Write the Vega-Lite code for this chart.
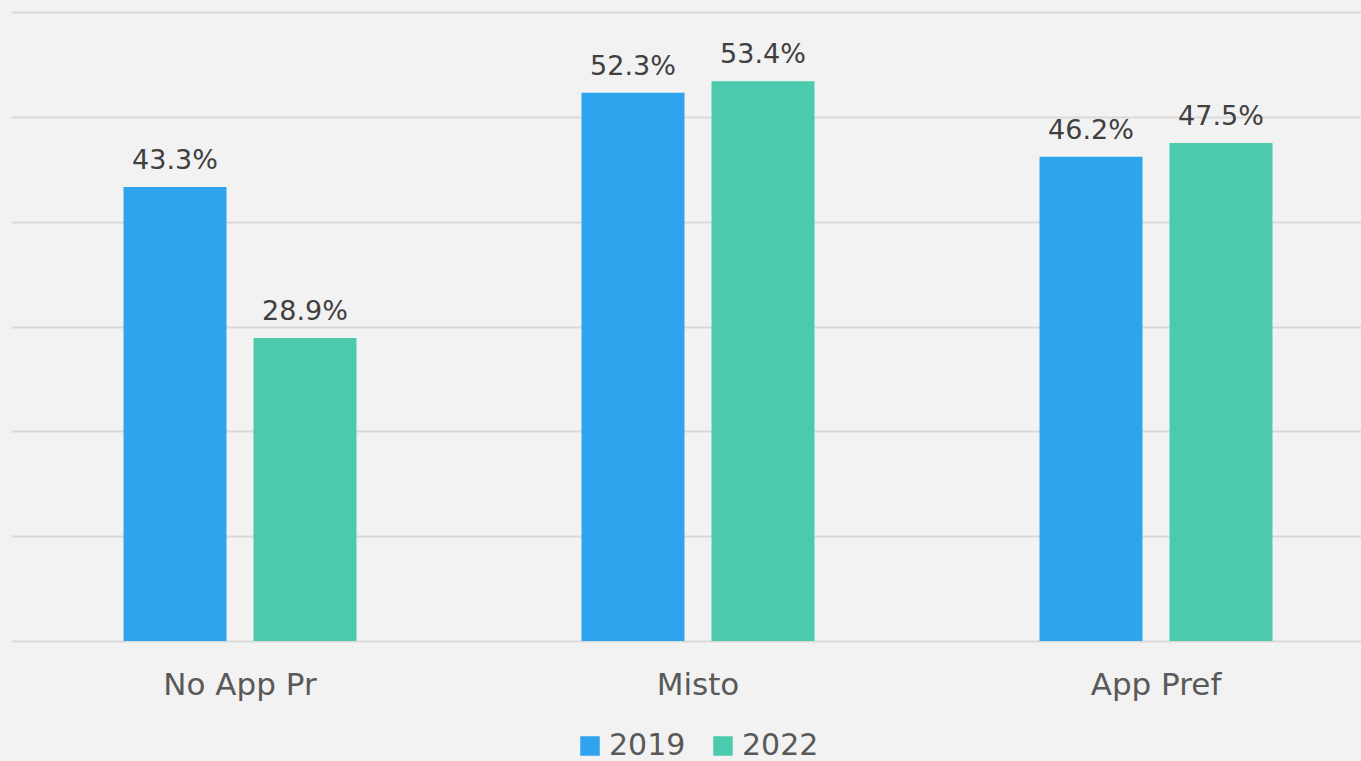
{
  "$schema": "https://vega.github.io/schema/vega-lite/v6.json",
  "width": 1374,
  "height": 629,
  "autosize": {"type": "none"},
  "padding": {"left": 11, "top": 12, "right": 0, "bottom": 120},
  "background": "#f2f2f2",
  "config": {
    "view": {"stroke": null},
    "font": "DejaVu Sans"
  },
  "data": {
    "values": [
      {"category": "No App Pr", "year": "2019", "value": 0.433},
      {"category": "No App Pr", "year": "2022", "value": 0.289},
      {"category": "Misto", "year": "2019", "value": 0.523},
      {"category": "Misto", "year": "2022", "value": 0.534},
      {"category": "App Pref", "year": "2019", "value": 0.462},
      {"category": "App Pref", "year": "2022", "value": 0.475}
    ]
  },
  "encoding": {
    "x": {
      "field": "category",
      "type": "nominal",
      "sort": ["No App Pr", "Misto", "App Pref"],
      "scale": {"paddingInner": 0, "paddingOuter": 0},
      "axis": {
        "title": null,
        "domain": false,
        "ticks": false,
        "labelAngle": 0,
        "labelFontSize": 31,
        "labelColor": "#595959",
        "labelBaseline": "alphabetic",
        "labelPadding": 53,
        "labelFont": "DejaVu Sans"
      }
    },
    "xOffset": {
      "field": "year",
      "type": "nominal",
      "scale": {"paddingInner": 0.208, "paddingOuter": 0.8656}
    },
    "y": {
      "field": "value",
      "type": "quantitative",
      "scale": {"domain": [0, 0.6]},
      "axis": {
        "title": null,
        "labels": false,
        "ticks": false,
        "domain": false,
        "values": [0, 0.1, 0.2, 0.3, 0.4, 0.5, 0.6],
        "gridColor": "#d9d9d9",
        "gridWidth": 2
      }
    }
  },
  "layer": [
    {
      "mark": {"type": "bar"},
      "encoding": {
        "color": {
          "field": "year",
          "type": "nominal",
          "scale": {"domain": ["2019", "2022"], "range": ["#2fa3ee", "#4bcaad"]},
          "legend": {
            "title": null,
            "orient": "none",
            "direction": "horizontal",
            "legendX": 564,
            "legendY": 719,
            "symbolType": "square",
            "symbolSize": 380,
            "symbolStrokeWidth": 0,
            "labelFontSize": 30,
            "labelColor": "#595959",
            "labelFont": "DejaVu Sans",
            "columnPadding": 22,
            "labelOffset": 4
          }
        }
      }
    },
    {
      "mark": {"type": "text", "baseline": "alphabetic", "dy": -18, "fontSize": 27, "color": "#404040"},
      "encoding": {
        "text": {"field": "value", "type": "quantitative", "format": ".1%"},
        "detail": {"field": "year"}
      }
    }
  ]
}
